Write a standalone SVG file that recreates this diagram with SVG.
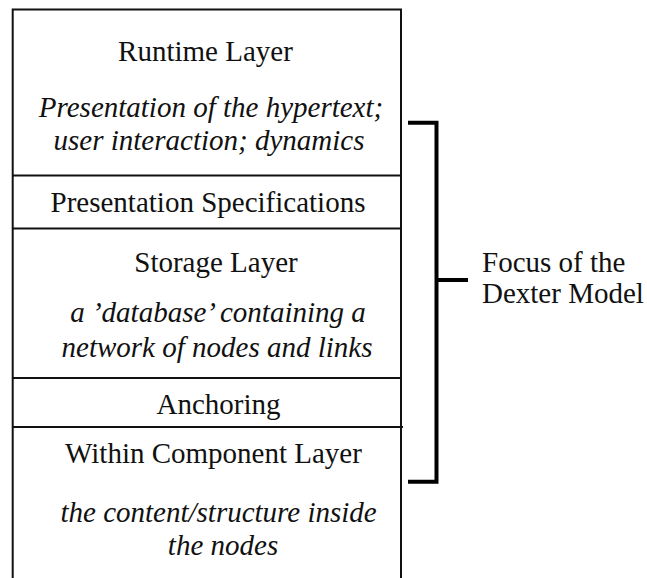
<svg xmlns="http://www.w3.org/2000/svg" width="647" height="578" viewBox="0 0 647 578">
<style>
text{font-family:'Liberation Serif','Times New Roman',Tinos,'DejaVu Serif',serif;font-size:29px;fill:#111;}
.t{text-anchor:middle;}
.i{font-style:italic;text-anchor:middle;}
.ln{stroke:#111;stroke-width:2;fill:none;}
.br{stroke:#000;stroke-width:4;fill:none;}
</style>
<rect width="647" height="578" fill="#fff"/>
<g id="frame">
<path class="ln" d="M12.7,578 V9.5 H401 V578"/>
</g>
<g id="runtime">
<text class="t" x="205.5" y="61" font-family="Liberation Serif">Runtime Layer</text>
<text class="i" x="211" y="117" font-family="Liberation Serif">Presentation of the hypertext;</text>
<text class="i" x="209" y="150" font-family="Liberation Serif">user interaction; dynamics</text>
</g>
<g id="presentation">
<path class="ln" d="M12.7,175.5 H401"/>
<text class="t" x="208" y="212" font-family="Liberation Serif">Presentation Specifications</text>
</g>
<g id="storage">
<path class="ln" d="M12.7,228.5 H401"/>
<text class="t" x="216" y="272" font-family="Liberation Serif">Storage Layer</text>
<text class="i" x="218" y="322" font-family="Liberation Serif">a ’database’ containing a</text>
<text class="i" x="217" y="357" font-family="Liberation Serif">network of nodes and links</text>
</g>
<g id="anchoring">
<path class="ln" d="M12.7,378 H401"/>
<text class="t" x="218.5" y="414" font-family="Liberation Serif">Anchoring</text>
</g>
<g id="within">
<path class="ln" d="M12.7,427 H403"/>
<text class="t" x="213.5" y="463" font-family="Liberation Serif">Within Component Layer</text>
<text class="i" x="218.6" y="522" font-family="Liberation Serif">the content/structure inside</text>
<text class="i" x="223" y="555" font-family="Liberation Serif">the nodes</text>
</g>
<g id="connectors">
<path class="br" d="M408,122.7 H436.5 V481.7 H408"/>
<path class="br" d="M436.5,280 H468"/>
</g>
<g id="focus">
<text x="482" y="272" font-family="Liberation Serif">Focus of the</text>
<text x="482" y="303" font-family="Liberation Serif">Dexter Model</text>
</g>
</svg>
